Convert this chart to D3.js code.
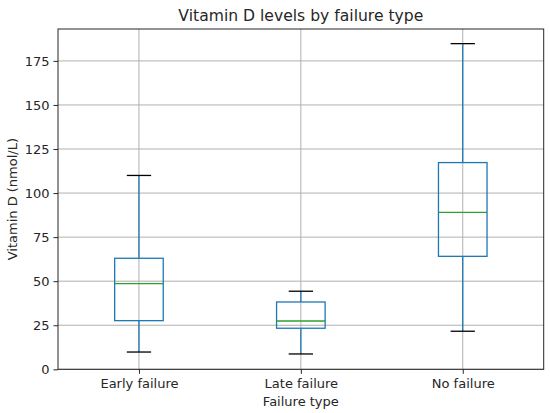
<!DOCTYPE html>
<html>
<head>
<meta charset="utf-8">
<script src="https://cdn.jsdelivr.net/npm/d3@7"></script>
<style>
  body { margin: 0; background: #fff; }
  text { font-family: "DejaVu Sans", sans-serif; fill: #262626; }
</style>
</head>
<body>
<div id="chart"></div>
<script>
var svgWidth = 550;
var svgHeight = 413;
var margin = { top: 29, right: 6.3, bottom: 43.7, left: 58 };
var width = svgWidth - margin.left - margin.right;
var height = svgHeight - margin.top - margin.bottom;

// box stats
var categories = ["Early failure", "Late failure", "No failure"];
var whiskerLow = [9.8, 8.7, 21.6];
var q1 = [27.6, 23.3, 64.1];
var median = [48.6, 27.4, 89.1];
var q3 = [63, 38.2, 117.3];
var whiskerHigh = [110, 44.3, 184.8];
var yTicks = [0, 25, 50, 75, 100, 125, 150, 175];

var data = categories.map(function (c, i) {
  return { name: c, pos: i + 1, lo: whiskerLow[i], q1: q1[i], med: median[i], q3: q3[i], hi: whiskerHigh[i] };
});

var svg = d3.select("#chart")
  .append("svg")
  .attr("width", svgWidth)
  .attr("height", svgHeight);

var chartGroup = svg.append("g")
  .attr("transform", `translate(${margin.left}, ${margin.top})`);

var x = d3.scaleLinear().domain([0.5, 3.5]).range([0, width]);
var y = d3.scaleLinear().domain([0, 193.1]).range([height, 0]);

// grid
chartGroup.append("g")
  .selectAll("line")
  .data(yTicks)
  .enter()
  .append("line")
  .attr("x1", 0).attr("x2", width)
  .attr("y1", d => y(d)).attr("y2", d => y(d))
  .attr("stroke", "#b0b0b0").attr("stroke-width", 1);
chartGroup.append("g")
  .selectAll("line")
  .data(data)
  .enter()
  .append("line")
  .attr("x1", d => x(d.pos)).attr("x2", d => x(d.pos))
  .attr("y1", 0).attr("y2", height)
  .attr("stroke", "#b0b0b0").attr("stroke-width", 1);

// axes
var bottomAxis = d3.axisBottom(x).tickValues([1, 2, 3])
  .tickFormat(d => categories[d - 1]).tickSize(4.5).tickPadding(4.5);
var leftAxis = d3.axisLeft(y).tickValues(yTicks).tickSize(4.5).tickPadding(4);

var bx = chartGroup.append("g")
  .attr("transform", `translate(0, ${height})`)
  .call(bottomAxis);
var ly = chartGroup.append("g").call(leftAxis);
[bx, ly].forEach(function (g) {
  g.select(".domain").remove();
  g.selectAll("line").attr("stroke", "#262626").attr("stroke-width", 1);
  g.selectAll("text").attr("font-size", "13px").attr("fill", "#262626")
    .attr("font-family", "DejaVu Sans, sans-serif");
});

// boxes
var bw = 0.3;
var boxes = chartGroup.selectAll(".box")
  .data(data)
  .enter()
  .append("g")
  .attr("class", "box");

boxes.append("line")
  .attr("x1", d => x(d.pos)).attr("x2", d => x(d.pos))
  .attr("y1", d => y(d.hi)).attr("y2", d => y(d.q3))
  .attr("stroke", "#1f77b4").attr("stroke-width", 1.3);
boxes.append("line")
  .attr("x1", d => x(d.pos)).attr("x2", d => x(d.pos))
  .attr("y1", d => y(d.q1)).attr("y2", d => y(d.lo))
  .attr("stroke", "#1f77b4").attr("stroke-width", 1.3);
boxes.append("rect")
  .attr("x", d => x(d.pos - bw / 2))
  .attr("width", d => x(d.pos + bw / 2) - x(d.pos - bw / 2))
  .attr("y", d => y(d.q3))
  .attr("height", d => y(d.q1) - y(d.q3))
  .attr("fill", "none").attr("stroke", "#1f77b4").attr("stroke-width", 1.3);
boxes.append("line")
  .attr("x1", d => x(d.pos - bw / 2)).attr("x2", d => x(d.pos + bw / 2))
  .attr("y1", d => y(d.med)).attr("y2", d => y(d.med))
  .attr("stroke", "#2ca02c").attr("stroke-width", 1.3);
["lo", "hi"].forEach(function (k) {
  boxes.append("line")
    .attr("x1", d => x(d.pos - bw / 4)).attr("x2", d => x(d.pos + bw / 4))
    .attr("y1", d => y(d[k])).attr("y2", d => y(d[k]))
    .attr("stroke", "#000").attr("stroke-width", 1.3);
});

// frame
chartGroup.append("rect")
  .attr("width", width).attr("height", height)
  .attr("fill", "none").attr("stroke", "#262626").attr("stroke-width", 1);

// labels
chartGroup.append("text")
  .attr("x", width / 2).attr("y", -8)
  .attr("text-anchor", "middle")
  .attr("font-size", "15.6px")
  .text("Vitamin D levels by failure type");
chartGroup.append("text")
  .attr("x", width / 2).attr("y", height + 37)
  .attr("text-anchor", "middle")
  .attr("font-size", "13px")
  .text("Failure type");
chartGroup.append("text")
  .attr("transform", "rotate(-90)")
  .attr("x", -height / 2).attr("y", -41)
  .attr("text-anchor", "middle")
  .attr("font-size", "13px")
  .text("Vitamin D (nmol/L)");
</script>
</body>
</html>
